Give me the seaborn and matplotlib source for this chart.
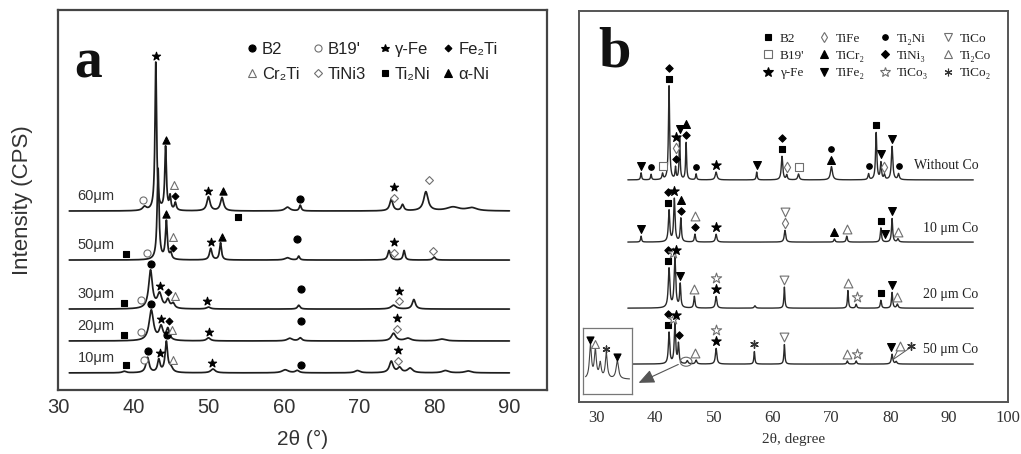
import numpy as np
import pandas as pd
import matplotlib
matplotlib.use("Agg")
import matplotlib.pyplot as plt
import seaborn as sns
from matplotlib.lines import Line2D
from matplotlib.patches import Ellipse

sns.set_theme(style="white")
plt.rcParams["font.family"] = ["Liberation Sans", "DejaVu Sans"]
SANS = ["Liberation Sans", "DejaVu Sans"]
SERIF = ["Liberation Serif", "DejaVu Serif"]

# ------------------------------------------------------------------ panel a data
a_labels = ["10μm", "20μm", "30μm", "50μm", "60μm"]
a_offsets = [4.5, 12.9, 21.3, 34.2, 47.1]
a_range = (31.5, 90.0)
# peaks: (2theta, height, half width)
a_peaks_10 = [(38.8, 0.4, 0.3), (41.9, 4.0, 0.25), (43.4, 3.3, 0.2), (44.4, 8.0, 0.2),
              (45.0, 1.2, 0.3), (50.6, 1.0, 0.35), (60.2, 0.8, 0.5), (61.8, 0.6, 0.3),
              (69.8, 0.6, 0.4), (74.3, 3.0, 0.3), (75.4, 1.3, 0.3), (76.8, 1.2, 0.4),
              (81.5, 0.6, 0.5), (84.5, 0.5, 0.5)]
a_peaks_20 = [(42.4, 8.0, 0.35), (43.7, 3.5, 0.3), (44.6, 3.0, 0.25), (50.0, 0.8, 0.3),
              (60.8, 0.7, 0.4), (62.2, 0.8, 0.25), (74.6, 2.0, 0.35), (76.5, 0.7, 0.5),
              (81.0, 0.5, 0.6)]
a_peaks_30 = [(42.3, 10.0, 0.3), (43.5, 3.8, 0.35), (44.6, 2.2, 0.25), (45.3, 1.3, 0.25),
              (50.0, 0.5, 0.3), (62.0, 1.0, 0.2), (74.6, 1.0, 0.4), (77.3, 2.5, 0.25)]
a_peaks_50 = [(43.3, 24.0, 0.15), (44.4, 10.0, 0.15), (45.0, 1.5, 0.15), (50.3, 3.0, 0.2),
              (51.6, 4.5, 0.15), (60.5, 0.6, 0.4), (62.0, 1.0, 0.15), (74.0, 2.5, 0.2),
              (76.0, 2.5, 0.15), (80.0, 0.8, 0.2)]
a_peaks_60 = [(41.5, 1.0, 0.3), (43.0, 39.0, 0.13), (44.3, 16.6, 0.13), (44.9, 3.5, 0.12),
              (45.6, 2.0, 0.15), (50.0, 3.7, 0.25), (51.8, 3.5, 0.25), (60.5, 1.0, 0.4),
              (62.2, 1.5, 0.15), (74.3, 3.0, 0.25), (75.8, 1.6, 0.2), (78.9, 5.0, 0.35),
              (82.5, 1.0, 1.0), (85.0, 0.8, 0.8)]
a_peaks = [a_peaks_10, a_peaks_20, a_peaks_30, a_peaks_50, a_peaks_60]

# phase marks: (2theta, phase, stack level)
a_marks_10 = [(39.0, "Ti2Ni", 0), (41.4, "B19'", 0), (42.0, "B2", 0), (43.5, "γ-Fe", 0),
              (44.5, "B2", 0), (45.3, "Cr2Ti", 0), (50.5, "γ-Fe", 0), (62.3, "B2", 0),
              (75.2, "TiNi3", 0), (75.2, "γ-Fe", 1)]
a_marks_20 = [(38.8, "Ti2Ni", 0), (41.0, "B19'", 0), (42.4, "B2", 0), (43.7, "γ-Fe", 0),
              (44.7, "Fe2Ti", 0), (45.2, "Cr2Ti", 0), (50.1, "γ-Fe", 0), (62.3, "B2", 1),
              (75.0, "TiNi3", 0), (75.0, "γ-Fe", 1)]
a_marks_30 = [(38.8, "Ti2Ni", 0), (41.0, "B19'", 0), (42.3, "B2", 0), (43.5, "γ-Fe", 0),
              (44.6, "Fe2Ti", 0), (45.5, "Cr2Ti", 0), (49.8, "γ-Fe", 0), (62.3, "B2", 1),
              (75.3, "TiNi3", 0), (75.3, "γ-Fe", 1)]
a_marks_50 = [(39.0, "Ti2Ni", 0), (41.8, "B19'", 0), (44.4, "α-Ni", 0), (45.3, "Fe2Ti", 0),
              (45.3, "Cr2Ti", 1), (50.3, "γ-Fe", 0), (51.8, "α-Ni", 0), (61.8, "B2", 1),
              (74.7, "TiNi3", 0), (74.7, "γ-Fe", 1), (79.9, "TiNi3", 0)]
a_marks_60 = [(41.3, "B19'", 0), (43.0, "γ-Fe", 0), (44.3, "α-Ni", 0), (45.6, "Fe2Ti", 0),
              (45.4, "Cr2Ti", 1), (50.0, "γ-Fe", 0), (51.9, "α-Ni", 0), (53.9, "Ti2Ni", -1),
              (62.2, "B2", 0), (74.7, "TiNi3", 0), (74.7, "γ-Fe", 1), (79.3, "TiNi3", 1)]
a_marks = [a_marks_10, a_marks_20, a_marks_30, a_marks_50, a_marks_60]

a_phases = ["B2", "B19'", "γ-Fe", "Fe2Ti", "Cr2Ti", "TiNi3", "Ti2Ni", "α-Ni"]
a_phase_labels = ["B2", "B19'", "γ-Fe", "Fe₂Ti", "Cr₂Ti", "TiNi3", "Ti₂Ni", "α-Ni"]

# ------------------------------------------------------------------ panel b data
b_labels = ["50 μm Co", "20 μm Co", "10 μm Co", "Without Co"]
b_offsets = [9.7, 24.0, 40.9, 56.8]
b_starts = [36.1, 35.4, 35.4, 35.4]
b_end = 94.1
b_peaks_50 = [(42.4, 8.0, 0.14), (43.4, 10.5, 0.14), (44.0, 5.0, 0.12), (45.5, 0.8, 0.15),
              (47.0, 1.0, 0.15), (50.4, 4.0, 0.15), (56.9, 3.2, 0.1), (62.0, 5.0, 0.1),
              (72.7, 0.8, 0.12), (74.2, 0.8, 0.12), (80.3, 2.5, 0.15), (81.0, 0.6, 0.15)]
b_peaks_20 = [(42.4, 10.0, 0.16), (43.4, 12.8, 0.16), (44.3, 6.0, 0.12), (46.7, 3.0, 0.12),
              (50.4, 3.0, 0.15), (57.0, 0.6, 0.15), (62.0, 5.4, 0.1), (72.8, 4.5, 0.1),
              (74.2, 1.0, 0.12), (78.4, 2.0, 0.12), (80.3, 4.0, 0.12), (81.2, 1.0, 0.15)]
b_peaks_10 = [(37.65, 1.5, 0.1), (42.4, 8.0, 0.14), (43.3, 11.0, 0.14), (44.4, 6.0, 0.12),
              (46.8, 2.0, 0.12), (50.4, 2.0, 0.15), (62.1, 3.0, 0.15), (70.5, 0.8, 0.12),
              (72.6, 1.5, 0.12), (78.4, 3.6, 0.12), (80.3, 6.0, 0.12), (81.3, 0.8, 0.15)]
b_peaks_0 = [(37.65, 1.8, 0.1), (39.35, 1.4, 0.1), (41.3, 1.5, 0.12), (42.4, 24.0, 0.12),
             (43.5, 3.0, 0.1), (44.2, 11.0, 0.1), (45.3, 9.5, 0.1), (47.0, 1.5, 0.1),
             (50.4, 2.0, 0.18), (57.3, 2.0, 0.1), (61.6, 6.0, 0.15), (62.4, 1.2, 0.12),
             (64.4, 1.5, 0.15), (70.0, 3.4, 0.2), (76.3, 1.5, 0.12), (77.6, 12.0, 0.13),
             (78.4, 4.3, 0.12), (79.0, 1.2, 0.12), (80.3, 8.5, 0.15), (81.4, 1.5, 0.15)]
b_peaks = [b_peaks_50, b_peaks_20, b_peaks_10, b_peaks_0]

b_marks_50 = [(42.3, "B2", 0), (42.3, "TiNi₃", 1), (43.1, "TiCo₃", 1), (43.5, "γ-Fe", 0),
              (44.1, "TiNi₃", 0), (46.8, "Ti₂Co", 0), (50.4, "γ-Fe", 0), (50.4, "TiCo₃", 1),
              (56.9, "TiCo₂", 0), (62.0, "TiCo", 0), (72.7, "Ti₂Co", 0), (74.3, "TiCo₃", 0),
              (80.2, "TiFe₂", 0), (81.7, "Ti₂Co", 1), (83.5, "TiCo₂", 1)]
b_marks_20 = [(42.3, "B2", 0), (42.3, "TiNi₃", 1), (43.1, "TiCo₃", 1), (43.6, "γ-Fe", 0),
              (44.3, "TiFe₂", 0), (46.7, "Ti₂Co", 0), (50.4, "γ-Fe", 0), (50.4, "TiCo₃", 1),
              (62.0, "TiCo", 0), (72.8, "Ti₂Co", 0), (74.3, "TiCo₃", 0), (78.4, "B2", 0),
              (80.3, "TiFe₂", 0), (81.2, "Ti₂Co", 0)]
b_marks_10 = [(37.65, "TiFe₂", 0), (42.3, "B2", 0), (42.3, "TiNi₃", 1), (43.3, "γ-Fe", 0),
              (44.4, "TiNi₃", 0), (44.4, "TiCr₂", 1), (46.8, "TiNi₃", 0), (46.8, "Ti₂Co", 1),
              (50.4, "γ-Fe", 0), (62.1, "TiFe", 0), (62.1, "TiCo", 1), (70.5, "TiCr₂", 0),
              (72.6, "Ti₂Co", 0), (78.4, "B2", 0), (79.1, "TiFe₂", 0), (80.3, "TiFe₂", 0),
              (81.3, "Ti₂Co", 0)]
b_marks_0 = [(37.65, "TiFe₂", 0), (39.35, "Ti₂Ni", 0), (41.3, "B19'", 0), (42.4, "B2", 0),
             (42.4, "TiNi₃", 1), (43.5, "TiNi₃", 0), (43.5, "TiFe", 1), (43.5, "γ-Fe", 2),
             (44.2, "TiFe₂", 0), (45.3, "TiNi₃", 0), (45.3, "TiCr₂", 1), (47.0, "Ti₂Ni", 0),
             (50.4, "γ-Fe", 0), (57.3, "TiFe₂", 0), (61.6, "B2", 0), (61.6, "TiNi₃", 1),
             (62.4, "TiFe", 0), (64.4, "B19'", 0), (70.0, "TiCr₂", 0), (70.0, "Ti₂Ni", 1),
             (76.3, "Ti₂Ni", 0), (77.6, "B2", 0), (78.4, "TiFe₂", 0), (79.0, "TiFe", 0),
             (80.3, "TiFe₂", 0), (81.4, "Ti₂Ni", 0)]
b_marks = [b_marks_50, b_marks_20, b_marks_10, b_marks_0]

b_phases = ["B2", "B19'", "γ-Fe", "TiFe", "TiCr₂", "TiFe₂",
            "Ti₂Ni", "TiNi₃", "TiCo₃", "TiCo", "Ti₂Co", "TiCo₂"]

# zoomed detail (inset) of the 50 μm Co pattern
inset_peaks = [(44.75, 1.0, 0.05), (44.95, 0.85, 0.05), (45.15, 0.45, 0.05),
               (45.4, 0.75, 0.05), (45.85, 0.55, 0.06)]
inset_marks = [(44.75, "TiFe₂"), (44.95, "Ti₂Co"), (45.4, "TiCo₂"), (45.85, "TiFe₂")]

# ------------------------------------------------------------------ styles
GREY = "#6f6f6f"
a_style = {
    "B2": dict(marker="o", facecolor="black", edgecolor="black", s=26),
    "B19'": dict(marker="o", facecolor="white", edgecolor=GREY, s=26),
    "γ-Fe": dict(marker="*", facecolor="black", edgecolor="black", s=38),
    "Fe2Ti": dict(marker="D", facecolor="black", edgecolor="black", s=12),
    "Cr2Ti": dict(marker="^", facecolor="white", edgecolor=GREY, s=32),
    "TiNi3": dict(marker="D", facecolor="white", edgecolor=GREY, s=16),
    "Ti2Ni": dict(marker="s", facecolor="black", edgecolor="black", s=17),
    "α-Ni": dict(marker="^", facecolor="black", edgecolor="black", s=27),
}
b_style = {
    "B2": dict(marker="s", facecolor="black", edgecolor="black", s=22),
    "B19'": dict(marker="s", facecolor="white", edgecolor=GREY, s=26),
    "γ-Fe": dict(marker="*", facecolor="black", edgecolor="black", s=50),
    "TiFe": dict(marker="d", facecolor="white", edgecolor=GREY, s=28),
    "TiCr₂": dict(marker="^", facecolor="black", edgecolor="black", s=32),
    "TiFe₂": dict(marker="v", facecolor="black", edgecolor="black", s=32),
    "Ti₂Ni": dict(marker="o", facecolor="black", edgecolor="black", s=16),
    "TiNi₃": dict(marker="D", facecolor="black", edgecolor="black", s=14),
    "TiCo₃": dict(marker="*", facecolor="white", edgecolor=GREY, s=60),
    "TiCo": dict(marker="v", facecolor="white", edgecolor=GREY, s=40),
    "Ti₂Co": dict(marker="^", facecolor="white", edgecolor=GREY, s=40),
    "TiCo₂": dict(marker=(6, 2, 0), facecolor="#333", edgecolor="#333", s=30),
}


def profile(x, peaks, base):
    y = np.full_like(x, base, dtype=float)
    for c, h, w in peaks:
        y += h / (1.0 + ((x - c) / w) ** 2)
    return y


def mark_y(x0, xs, ys, lvl, pad, step):
    win = (xs > x0 - 0.2) & (xs < x0 + 0.2)
    if lvl < 0:
        return np.interp(x0, xs, ys) - pad
    return ys[win].max() + pad + lvl * step


def draw_marker(ax, x, y, st, z=6):
    kw = dict(st)
    if isinstance(kw["marker"], tuple):
        ax.scatter([x], [y], marker=kw["marker"], s=kw["s"], color=kw["edgecolor"],
                   linewidths=1.0, zorder=z)
    else:
        ax.scatter([x], [y], marker=kw["marker"], s=kw["s"], facecolors=kw["facecolor"],
                   edgecolors=kw["edgecolor"], linewidths=0.8, zorder=z)


fig = plt.figure(figsize=(10.21, 4.54), dpi=100)
fig.patch.set_facecolor("white")
axa = fig.add_axes([58 / 1021, 64 / 454, 489 / 1021, 380 / 454])
axb = fig.add_axes([579 / 1021, 52 / 454, 429 / 1021, 391 / 454])

# ------------------------------------------------------------------ panel a
xa = np.linspace(a_range[0], a_range[1], 4000)
for lab, off, pk, mk in zip(a_labels, a_offsets, a_peaks, a_marks):
    ya = profile(xa, pk, off)
    df = pd.DataFrame({"2θ": xa, "I": ya})
    sns.lineplot(data=df, x="2θ", y="I", ax=axa, color="#1e1e1e", lw=1.25,
                 estimator=None, sort=False, zorder=3)
    for x0, ph, lvl in mk:
        draw_marker(axa, x0, mark_y(x0, xa, ya, lvl, 1.6, 2.8), a_style[ph])
    axa.text(32.6, off + 4.0, lab, fontsize=10.5, color="#333", family=SANS,
             va="center", ha="left")

axa.set_xlim(30, 95)
axa.set_ylim(0, 100)
axa.set_xticks([30, 40, 50, 60, 70, 80, 90])
axa.set_yticks([])
axa.tick_params(axis="x", direction="in", length=5, width=1.2, colors="#333",
                labelsize=14.5, pad=6)
for lab in axa.get_xticklabels():
    lab.set_family(SANS)
axa.set_xlabel("2θ (°)", fontsize=15, color="#333", family=SANS, labelpad=9)
axa.set_ylabel("Intensity (CPS)", fontsize=16, color="#333", family=SANS)
axa.yaxis.set_label_coords(-0.052, 0.5)
for sp in axa.spines.values():
    sp.set_color("#444")
    sp.set_linewidth(1.6)
axa.text(0.062, 0.86, "a", transform=axa.transAxes, fontsize=40, fontweight="bold",
         family=SERIF, ha="center", va="center", color="#111")

a_handles = [Line2D([], [], linestyle="none", marker=a_style[p]["marker"],
                    markersize=np.sqrt(a_style[p]["s"]),
                    markerfacecolor=a_style[p]["facecolor"],
                    markeredgecolor=a_style[p]["edgecolor"], markeredgewidth=0.8)
             for p in a_phases]
order = [0, 4, 1, 5, 2, 6, 3, 7]
la = axa.legend([a_handles[i] for i in order], [a_phase_labels[i] for i in order],
                ncol=4, loc="upper left", bbox_to_anchor=(0.385, 0.915), frameon=False,
                fontsize=12, handlelength=0.7, handletextpad=0.25, columnspacing=0.75,
                labelspacing=0.6, borderpad=0, borderaxespad=0)
for t in la.get_texts():
    t.set_family(SANS)
    t.set_color("#222")

# ------------------------------------------------------------------ panel b
for lab, off, x_start, pk, mk in zip(b_labels, b_offsets, b_starts, b_peaks, b_marks):
    xb = np.linspace(x_start, b_end, 4000)
    yb = profile(xb, pk, off)
    df = pd.DataFrame({"2θ": xb, "I": yb})
    sns.lineplot(data=df, x="2θ", y="I", ax=axb, color="#2a2a2a", lw=1.0,
                 estimator=None, sort=False, zorder=3)
    for x0, ph, lvl in mk:
        draw_marker(axb, x0, mark_y(x0, xb, yb, lvl, 1.8, 2.8), b_style[ph])
    axb.text(95.0, off + 3.6, lab, fontsize=10, color="#222", family=SERIF,
             ha="right", va="center")

# leader lines for the two far marks of 50 μm Co
base50 = b_offsets[0]
for x_tip in (81.7, 83.5):
    axb.plot([80.5, x_tip - 0.3], [base50 + 1.2, base50 + 4.0], color="#555", lw=0.7, zorder=4)

# circled region + arrow to the zoomed detail
axb.add_patch(Ellipse((45.3, base50 + 0.6), 2.0, 2.3, fill=False, ec="#666", lw=0.8, zorder=4))
axb.annotate("", xy=(36.8, 4.6), xytext=(44.4, base50 + 0.2),
             arrowprops=dict(arrowstyle="-|>,head_length=0.8,head_width=0.35",
                             color="#555", lw=0.8))

ins = axb.inset_axes([27.8, 2.0, 8.3, 16.9], transform=axb.transData)
xi = np.linspace(44.55, 46.35, 800)
yi = profile(xi, inset_peaks, 0.0)
sns.lineplot(x=xi, y=yi, ax=ins, color="#444", lw=0.8, estimator=None, sort=False)
for x0, ph in inset_marks:
    st = dict(b_style[ph])
    st["s"] = st["s"] * 0.8
    draw_marker(ins, x0, np.interp(x0, xi, yi) + 0.12, st)
ins.set_xlim(44.45, 46.45)
ins.set_ylim(-0.45, 1.55)
ins.set_xticks([])
ins.set_yticks([])
ins.set_xlabel("")
ins.set_ylabel("")
for sp in ins.spines.values():
    sp.set_color("#777")
    sp.set_linewidth(0.9)

axb.set_xlim(27.1, 100)
axb.set_ylim(0, 100)
axb.set_xticks([30, 40, 50, 60, 70, 80, 90, 100])
axb.set_yticks([])
axb.tick_params(axis="x", direction="in", length=4, width=1.0, colors="#333",
                labelsize=12, pad=6)
for lab in axb.get_xticklabels():
    lab.set_family(SERIF)
axb.set_xlabel("2θ, degree", fontsize=11, color="#333", family=SERIF, labelpad=5)
axb.set_ylabel("")
for sp in axb.spines.values():
    sp.set_color("#555")
    sp.set_linewidth(1.4)
axb.text(0.082, 0.895, "b", transform=axb.transAxes, fontsize=42, fontweight="bold",
         family=SERIF, ha="center", va="center", color="#111")

b_handles = [Line2D([], [], linestyle="none", marker=b_style[p]["marker"],
                    markersize=np.sqrt(b_style[p]["s"]),
                    markerfacecolor=b_style[p]["facecolor"],
                    markeredgecolor=b_style[p]["edgecolor"], markeredgewidth=0.8)
             for p in b_phases]
lb = axb.legend(b_handles, b_phases, ncol=4, loc="upper left",
                bbox_to_anchor=(0.425, 0.945), frameon=False, fontsize=9.5,
                handlelength=1.0, handletextpad=0.4, columnspacing=1.0,
                labelspacing=0.38, borderpad=0, borderaxespad=0)
for t in lb.get_texts():
    t.set_family(SERIF)
    t.set_color("#222")

fig.savefig("out.png", dpi=100, facecolor="white")
